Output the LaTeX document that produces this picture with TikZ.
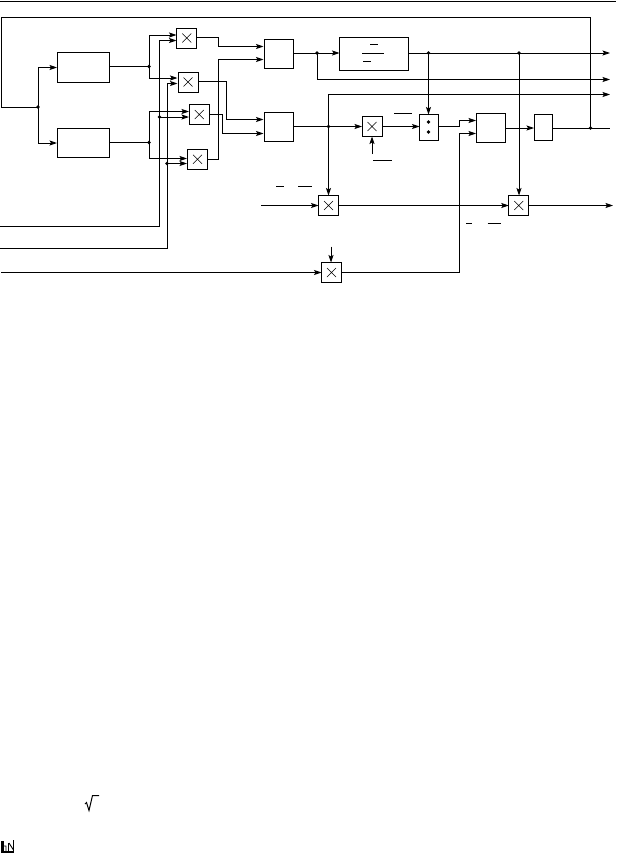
\documentclass[tikz,border=0pt]{standalone}
\usetikzlibrary{arrows.meta}
\tikzset{
  x=1pt,y=-1pt,
  ln/.style={line width=0.95pt,line join=miter},
  ar/.style={ln,-{Stealth[length=7.5pt,width=5pt,inset=1.5pt]}},
  blk/.style={draw,line width=0.95pt,inner sep=0pt,outer sep=0pt},
  mult/.style={blk,minimum width=20pt,minimum height=20pt,
    path picture={\draw[line width=0.55pt]
      ([shift={(-4.5pt,-4.5pt)}]path picture bounding box.center)--([shift={(4.5pt,4.5pt)}]path picture bounding box.center)
      ([shift={(-4.5pt,4.5pt)}]path picture bounding box.center)--([shift={(4.5pt,-4.5pt)}]path picture bounding box.center);}},
  dot/.style={circle,fill=black,inner sep=0pt,outer sep=0pt,minimum size=3.6pt},
  bar/.style={line width=0.85pt}
}
\begin{document}
\begin{tikzpicture}
\useasboundingbox (0,0) rectangle (616,854);
\draw[line width=1pt] (0,1)--(616,1);
% boxes
\node[blk,minimum width=52.5pt,minimum height=30.5pt] (f1) at (83.25,67.25) {};
\node[blk,minimum width=52.5pt,minimum height=29.5pt] (f2) at (83.25,142.75) {};
\node[mult] (m1) at (186.75,38) {};
\node[mult] (m2) at (188,82) {};
\node[mult] (m3) at (199.25,114.5) {};
\node[mult] (m4) at (197.5,159.25) {};
\node[blk,minimum width=29pt,minimum height=29pt] (s1) at (278.5,54) {};
\node[blk,minimum width=29pt,minimum height=29pt] (s2) at (278.5,127) {};
\node[blk,minimum width=69pt,minimum height=33pt] (d1) at (374,54) {};
\node[mult] (m5) at (372,126.5) {};
\node[blk,minimum width=18.5pt,minimum height=26pt] (d2) at (428.75,127.5) {};
\node[blk,minimum width=29pt,minimum height=29pt] (b1) at (491,127.5) {};
\node[blk,minimum width=18.5pt,minimum height=26pt] (b2) at (543.25,127.5) {};
\node[mult] (m6) at (328.5,205.5) {};
\node[mult] (m7) at (518.75,205.5) {};
\node[mult] (m8) at (331.5,272.5) {};
% junctions
\coordinate (j0) at (38,107);
\coordinate (j1) at (149,66.5);
\coordinate (j2) at (149,142.5);
\coordinate (j3) at (159.5,117);
\coordinate (j4) at (167,163.5);
\coordinate (j5) at (317,53);
\coordinate (j6) at (428.5,53);
\coordinate (j7) at (519,53);
\coordinate (j8) at (328.5,126.5);
\coordinate (j9) at (590.5,128);
% feedback
\draw[ln] (j0) -| (1.5,17.5) -| (j9);
\draw[ar] (j0) |- (f1.west |- 0,67.5);
\draw[ar] (j0) |- (f2.west |- 0,143);
% filters
\draw[ln] (f1.east |- j1) -- (j1);
\draw[ln] (f2.east |- j2) -- (j2);
\draw[ar] (j1) |- (176.5,35);
\draw[ar] (j1) |- (177.5,78);
\draw[ar] (j2) |- (189,111.5);
\draw[ar] (j2) |- (187,158.5);
% external inputs
\draw[ar] (0,226.5) -| (159.5,40.5) -- (176.5,40.5);
\draw[ar] (j3) -- (189,117);
\draw[ar] (0,248.5) -| (167,83.5) -- (177.5,83.5);
\draw[ar] (j4) -- (187,163.5);
\draw[ar] (1,272.5) -- (m8.west);
% multiplier outputs
\draw[ar] (m1.east |- 0,37.5) -| (218.5,46.5) -- (263.5,46.5);
\draw[ar] (m2.east |- 0,81) -| (226,119.5) -- (263.5,119.5);
\draw[ar] (m3.east |- 0,114.5) -| (222,133.5) -- (263.5,133.5);
\draw[ar] (m4.east |- 0,159) -| (218.5,59.5) -- (263.5,59.5);
% upper branch
\draw[ln] (s1.east |- j5) -- (j5);
\draw[ar] (j5) -- (d1.west |- j5);
\draw[ar] (j5) |- (610,79.5);
\draw[ln] (d1.east |- j6) -- (j6);
\draw[ln] (j6) -- (j7);
\draw[ar] (j7) -- (610,53);
\draw[ar] (j6) -- (d2.north -| j6);
\draw[ar] (j7) -- (m7.north -| j7);
% lower branch
\draw[ln] (s2.east |- j8) -- (j8);
\draw[ar] (j8) -- (m5.west);
\draw[ar] (j8) |- (610,94.5);
\draw[ar] (j8) -- (m6.north);
\draw[ar] (m5.east) -- (d2.west |- m5);
\draw[ar] (372,154) -- (m5.south);
\draw[ar] (d2.east |- m5) -- (459,126.5) |- (476,120.5);
\draw[ar] (m8.east) -| (459,133.5) -- (476,133.5);
\draw[ar] (b1.east |- 0,128) -- (b2.west |- 0,128);
\draw[ln] (b2.east |- j9) -- (610,128);
\draw[ar] (261,205.5) -- (m6.west);
\draw[ar] (m6.east) -- (m7.west);
\draw[ar] (m7.east) -- (613,205.5);
\draw[ar] (331,246.5) -- (m8.north -| 331,0);
% dots
\foreach \p in {j0,j1,j2,j3,j4,j5,j6,j7,j8,j9} \node[dot] at (\p) {};
\node[dot] (p1) at (428.5,122) {};
\node[dot] (p2) at (428.5,132) {};
% bars
\draw[bar] (370,44.5)--(377.5,44.5) (362,53)--(383.5,53) (363,61.5)--(371,61.5);
\draw[bar] (394,113)--(411.5,113) (373,160.5)--(391.5,160.5);
\draw[bar] (276,186.5)--(284,186.5) (298,186.5)--(312,186.5);
\draw[bar] (466,223)--(472,223) (487.5,223)--(501,223);
% radical
\draw[line width=1pt] (85,804)--(86.5,802.5)--(89,810.5)--(92.5,795.5)--(99,795.5);
% scrap at the corner
\fill (1,841) rectangle (3.5,853);
\fill (1,850.5) rectangle (14,853);
\draw[line width=0.9pt] (2,846)--(6,846)--(6,851) (8.5,843)--(8.5,851) (9,843)--(13.5,850) (13.5,840)--(13.5,851);
\end{tikzpicture}
\end{document}
